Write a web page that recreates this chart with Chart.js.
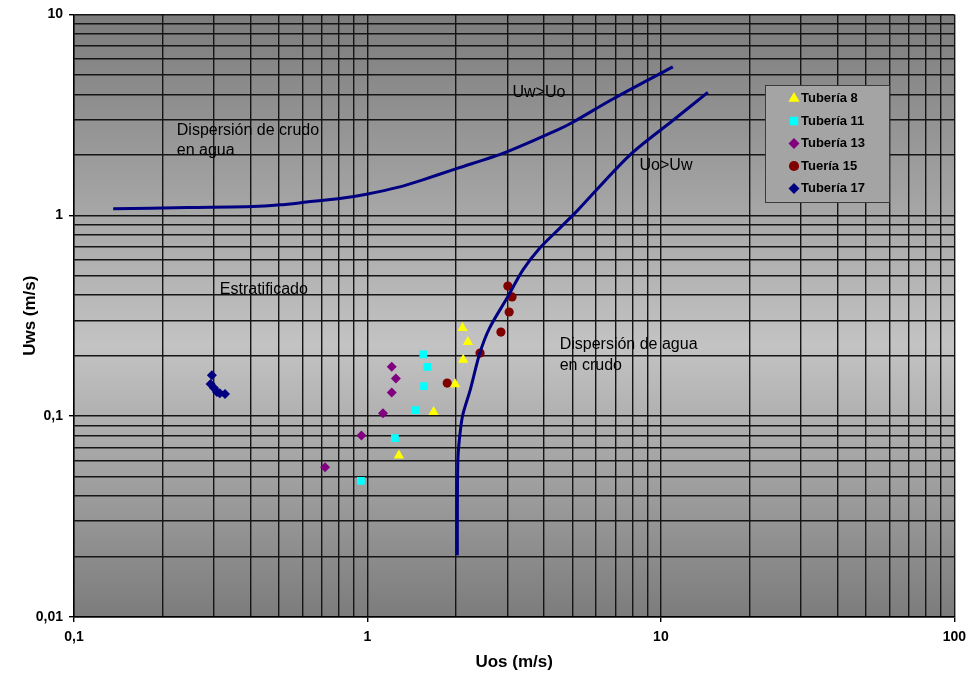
<!DOCTYPE html>
<html>
<head>
<meta charset="utf-8">
<script src="https://cdn.jsdelivr.net/npm/chart.js@4/dist/chart.umd.min.js"></script>
<style>
  html, body { margin: 0; padding: 0; background: #fff; }
  #wrap { width: 973px; height: 681px; }
</style>
</head>
<body>
<div id="wrap"><canvas id="flowChart" width="973" height="681"></canvas></div>
<script>
// Tick decades and labels
const xDecades = [0.1, 1, 10, 100];
const xTickLabels = ["0,1", "1", "10", "100"];
const yDecades = [0.01, 0.1, 1, 10];
const yTickLabels = ["0,01", "0,1", "1", "10"];

// Measured points, Uos (m/s) / Uws (m/s)
const t8Uos = [2.11, 2.20, 2.12, 1.99, 1.68, 1.28];
const t8Uws = [0.275, 0.234, 0.191, 0.144, 0.105, 0.0636];

const t11Uos = [1.55, 1.60, 1.56, 1.46, 1.24, 0.95];
const t11Uws = [0.203, 0.176, 0.141, 0.107, 0.0778, 0.0476];

const t13Uos = [1.21, 1.25, 1.21, 1.13, 0.954, 0.717];
const t13Uws = [0.176, 0.154, 0.131, 0.1035, 0.0802, 0.0556];

const t15Uos = [3.01, 3.11, 3.04, 2.85, 2.42, 1.87];
const t15Uws = [0.444, 0.392, 0.330, 0.262, 0.206, 0.146];

const t17Uos = [0.295, 0.292, 0.300, 0.307, 0.314, 0.327];
const t17Uws = [0.160, 0.1445, 0.138, 0.132, 0.130, 0.129];

// Transition boundaries
const upperUos = [0.136, 0.245, 0.408, 0.503, 0.620, 0.805, 0.992, 1.288, 1.507, 2.01, 2.97, 4.52, 5.01, 6.86, 10.98];
const upperUws = [1.077, 1.093, 1.105, 1.127, 1.163, 1.211, 1.273, 1.384, 1.484, 1.706, 2.064, 2.692, 2.905, 3.79, 5.48];

const lowerUos = [2.025, 2.025, 2.035, 2.073, 2.116, 2.243, 2.413, 2.609, 3.011, 3.388, 3.862, 4.517, 5.212, 7.82, 10.98, 14.45];
const lowerUws = [0.0203, 0.0327, 0.0624, 0.0846, 0.1023, 0.136, 0.205, 0.275, 0.394, 0.535, 0.685, 0.861, 1.061, 1.988, 2.962, 4.09];

// Region labels
const notes = [
  { text: "Dispersión de crudo", x: 0.224, y: 2.65 },
  { text: "en agua", x: 0.224, y: 2.09 },
  { text: "Estratificado", x: 0.314, y: 0.428 },
  { text: "Uw>Uo", x: 3.12, y: 4.09 },
  { text: "Uo>Uw", x: 8.46, y: 1.76 },
  { text: "Dispersión de agua", x: 4.52, y: 0.228 },
  { text: "en crudo", x: 4.52, y: 0.1795 }
];

const pts = (xs, ys) => xs.map((x, i) => ({ x: x, y: ys[i] }));

function logTicks(lo, hi) {
  const out = [];
  for (let d = lo; d < hi * 0.999; d *= 10) {
    for (let m = 1; m <= 9; m++) out.push(+(m * d).toPrecision(6));
  }
  out.push(hi);
  return out;
}

const isDecade = v => Math.abs(Math.log10(v) - Math.round(Math.log10(v))) < 1e-6;

function decadeLabel(decades, labels) {
  return v => {
    const i = decades.findIndex(d => Math.abs(d - v) / d < 1e-6);
    return i >= 0 ? labels[i] : "";
  };
}

Chart.defaults.font.family = '"Liberation Sans", Arial, sans-serif';
Chart.defaults.color = "#000";

const plotBackground = {
  id: "plotBackground",
  beforeDraw(chart) {
    const { ctx, chartArea: a } = chart;
    const g = ctx.createLinearGradient(0, a.top, 0, a.bottom);
    g.addColorStop(0, "#7c7c7c");
    g.addColorStop(0.55, "#c3c3c3");
    g.addColorStop(1, "#7c7c7c");
    ctx.save();
    ctx.fillStyle = g;
    ctx.fillRect(a.left, a.top, a.right - a.left, a.bottom - a.top);
    ctx.restore();
  }
};

const regionNotes = {
  id: "regionNotes",
  afterDatasetsDraw(chart) {
    const { ctx, scales } = chart;
    ctx.save();
    ctx.font = '16px "Liberation Sans", Arial, sans-serif';
    ctx.fillStyle = "#000";
    ctx.textBaseline = "middle";
    ctx.textAlign = "left";
    notes.forEach(n => {
      ctx.fillText(n.text, scales.x.getPixelForValue(n.x), scales.y.getPixelForValue(n.y));
    });
    ctx.restore();
  }
};

// boxed legend inside the plot, upper right
const boxLegend = {
  id: "boxLegend",
  afterDraw(chart) {
    const { ctx } = chart;
    const items = chart.data.datasets.filter(d => !d.showLine);
    const left = 765, top = 85, w = 124, h = 117;
    ctx.save();
    ctx.fillStyle = "#a4a4a4";
    ctx.fillRect(left, top, w, h);
    ctx.strokeStyle = "#3a3a3a";
    ctx.lineWidth = 1;
    ctx.strokeRect(left + 0.5, top + 0.5, w, h);
    ctx.font = 'bold 13px "Liberation Sans", Arial, sans-serif';
    ctx.textBaseline = "middle";
    items.forEach((d, i) => {
      const y = top + 13.5 + i * 22.5;
      ctx.fillStyle = d.backgroundColor;
      Chart.helpers.drawPoint(ctx, {
        pointStyle: d.pointStyle, radius: d.pointRadius + 0.5, rotation: 0, borderWidth: 0
      }, left + 29, y);
      ctx.fillStyle = "#000";
      ctx.fillText(d.label, left + 36, y);
    });
    ctx.restore();
  }
};

function markerSet(label, xs, ys, color, style, r) {
  return {
    label: label,
    data: pts(xs, ys),
    backgroundColor: color,
    borderColor: color,
    borderWidth: 0,
    pointStyle: style,
    pointRadius: r,
    pointHoverRadius: r,
    showLine: false
  };
}

function boundary(xs, ys) {
  return {
    label: "",
    data: pts(xs, ys),
    showLine: true,
    borderColor: "#000080",
    borderWidth: 3,
    pointRadius: 0,
    tension: 0.3,
    fill: false
  };
}

const gridOpts = {
  color: "#151515",
  lineWidth: 1.4,
  tickLength: 5,
  tickColor: c => (c.tick && isDecade(c.tick.value) ? "#000" : "rgba(0,0,0,0)")
};

new Chart(document.getElementById("flowChart"), {
  type: "scatter",
  data: {
    datasets: [
      boundary(upperUos, upperUws),
      boundary(lowerUos, lowerUws),
      markerSet("Tubería 8", t8Uos, t8Uws, "#ffff00", "triangle", 6),
      markerSet("Tubería 11", t11Uos, t11Uws, "#00ffff", "rect", 5.5),
      markerSet("Tubería 13", t13Uos, t13Uws, "#800080", "rectRot", 5),
      markerSet("Tuería 15", t15Uos, t15Uws, "#800000", "circle", 4.6),
      markerSet("Tubería 17", t17Uos, t17Uws, "#000080", "rectRot", 5)
    ]
  },
  options: {
    responsive: false,
    animation: false,
    layout: { padding: { top: 12, right: 18, left: 0, bottom: 0 } },
    plugins: {
      legend: { display: false },
      tooltip: { enabled: false }
    },
    scales: {
      x: {
        type: "logarithmic",
        min: 0.1,
        max: 100,
        afterBuildTicks: s => { s.ticks = logTicks(0.1, 100).map(v => ({ value: v })); },
        afterFit: s => { s.height = 64; },
        grid: gridOpts,
        border: { color: "#000", width: 1.4 },
        ticks: {
          autoSkip: false,
          maxRotation: 0,
          padding: 7,
          font: { size: 14, weight: "bold" },
          callback: decadeLabel(xDecades, xTickLabels)
        },
        title: {
          display: true,
          text: "Uos (m/s)",
          font: { size: 17, weight: "bold" },
          padding: { top: 0, bottom: 8 }
        }
      },
      y: {
        type: "logarithmic",
        min: 0.01,
        max: 10,
        afterBuildTicks: s => { s.ticks = logTicks(0.01, 10).map(v => ({ value: v })); },
        afterFit: s => { s.width = 74; },
        grid: gridOpts,
        border: { color: "#000", width: 1.4 },
        ticks: {
          autoSkip: false,
          padding: 6,
          font: { size: 14, weight: "bold" },
          callback: decadeLabel(yDecades, yTickLabels)
        },
        title: {
          display: true,
          text: "Uws (m/s)",
          font: { size: 17, weight: "bold" },
          padding: { top: 20, bottom: 0 }
        }
      }
    }
  },
  plugins: [plotBackground, regionNotes, boxLegend]
});
</script>
</body>
</html>
